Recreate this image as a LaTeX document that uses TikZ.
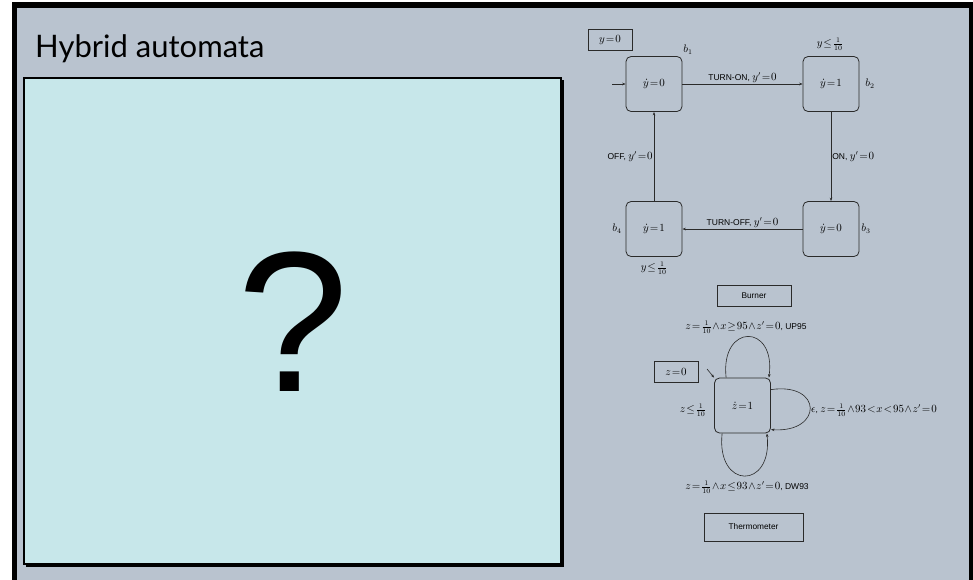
\documentclass[tikz,border=0pt]{standalone}
\usepackage{fontspec}
\usetikzlibrary{arrows.meta}
\newfontfamily\titlefont{Lato}
\newfontfamily\qfont{Liberation Sans}
\newfontfamily\lblfont{Liberation Sans}
\definecolor{slidegray}{HTML}{B9C3CF}
\definecolor{panelblue}{HTML}{C7E7EA}
\definecolor{ink}{HTML}{2A2A2A}
\newcommand\mm[1]{{\fontsize{10.5}{12}\selectfont\thickmuskip=1.5mu\medmuskip=1mu$#1$}}
\begin{document}
\begin{tikzpicture}[x=1pt,y=-1pt,
  loc/.style={draw=ink, line width=0.8pt, rounded corners=5pt, minimum width=56pt, minimum height=55pt, inner sep=0pt, font=\fontsize{10}{12}\selectfont},
  initbox/.style={draw=ink, line width=0.8pt, minimum width=44pt, minimum height=21pt, inner sep=0pt, font=\fontsize{10}{12}\selectfont},
  namebox/.style={draw=ink, line width=0.8pt, inner sep=0pt, font=\lblfont\fontsize{8.3}{10}\selectfont},
  lbl/.style={font=\lblfont\fontsize{8.5}{10}\selectfont, inner sep=1pt},
  edge/.style={draw=ink, line width=0.6pt, -{Stealth[length=3.5pt,width=2.6pt]}},
]
% slide background and frame
\useasboundingbox (0,0) rectangle (973,579);
\fill[white] (0,0) rectangle (973,579);
\fill[black] (12,2) rectangle (973,585);
\fill[slidegray] (17,8) rectangle (969,585);
% title
\node[anchor=base west, inner sep=0pt, font=\titlefont\fontsize{31}{33}\selectfont] (title) at (35,57) {Hybrid automata};
% panel with shadow
\fill[black] (26,80) rectangle (564,567);
\fill[panelblue] (24,78) rectangle (561,564);
\draw[black, line width=1.6pt] (24,78) rectangle (561,564);
\node[font=\qfont\fontsize{200}{200}\selectfont, inner sep=0pt] (q) at (293,322) {?};

% Burner automaton
\node[loc] (b1) at (654,84) {\mm{\dot y=0}};
\node[loc] (b2) at (831,84) {\mm{\dot y=1}};
\node[loc] (b3) at (831,229) {\mm{\dot y=0}};
\node[loc] (b4) at (654,229) {\mm{\dot y=1}};
\node[initbox] (y0) at (610,40) {\mm{y=0}};
\coordinate (b1in) at (612,84);
\draw[edge] (b1in) -- (b1.west);
\node[lbl] (lb1) at (688,50) {\mm{b_1}};
\node[lbl] (lb2) at (870,84) {\mm{b_2}};
\node[lbl] (lb3) at (866,229) {\mm{b_3}};
\node[lbl] (lb4) at (617,229) {\mm{b_4}};
\node[lbl] (inv2) at (830,44) {\mm{y\le\frac{1}{10}}};
\node[lbl] (inv4) at (654,268) {\mm{y\le\frac{1}{10}}};
\draw[edge] (b1.east) -- node[lbl, above] {TURN-ON, \mm{y'=0}} (b2.west);
\draw[edge] (b2.south) -- node[lbl, right] {ON, \mm{y'=0}} (b3.north);
\draw[edge] (b3.west) -- node[lbl, above] {TURN-OFF, \mm{y'=0}} (b4.east);
\draw[edge] (b4.north) -- node[lbl, left] {OFF, \mm{y'=0}} (b1.south);
\node[namebox, minimum width=74pt, minimum height=21pt] (burner) at (754,295.5) {Burner};

% Thermometer automaton
\node[loc] (t) at (742.5,405.5) {\mm{\dot z=1}};
\node[initbox] (z0) at (676,372) {\mm{z=0}};
\coordinate (tin) at (707,369);
\draw[edge] (tin) -- (t.north west);
\draw[edge] ([xshift=12pt]t.north west) .. controls (720,323) and (776,323) .. ([xshift=-2pt]t.north east);
\draw[edge] ([yshift=-12pt]t.north east) .. controls (823,382) and (823,433) .. ([yshift=-52pt]t.north east);
\draw[edge] ([xshift=8pt]t.south west) .. controls (716,490) and (773,490) .. ([xshift=-4pt]t.south east);
\node[lbl] (lup) at (746,327) {\mm{z=\frac{1}{10}\wedge x\ge 95\wedge z'=0}, UP95};
\node[lbl, anchor=west] (lmid) at (810,410) {\mm{\epsilon}, \mm{z=\frac{1}{10}\wedge 93<x<95\wedge z'=0}};
\node[lbl] (ldw) at (747,487) {\mm{z=\frac{1}{10}\wedge x\le 93\wedge z'=0}, DW93};
\node[lbl] (linv) at (693,410) {\mm{z\le\frac{1}{10}}};
\node[namebox, minimum width=99pt, minimum height=28pt] (thermo) at (753.5,527) {Thermometer};
\end{tikzpicture}
\end{document}
